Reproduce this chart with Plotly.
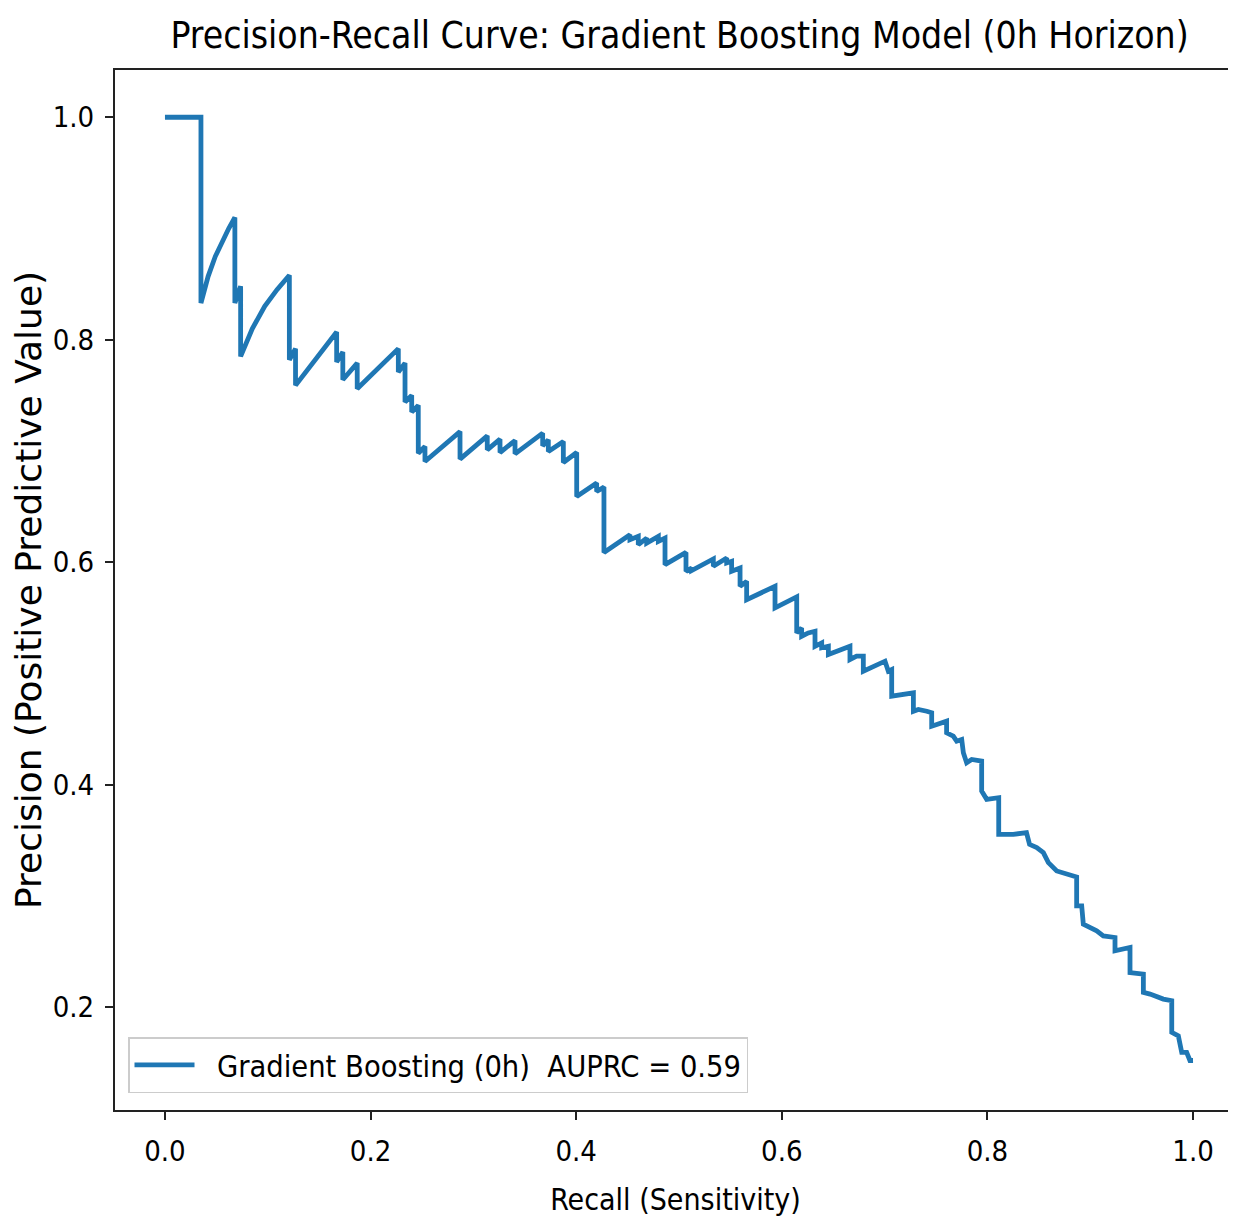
import plotly.graph_objects as go

recall = [
    0.0, 0.035, 0.035, 0.042, 0.049, 0.056, 0.062, 0.068, 0.068, 0.0736, 0.0736,
    0.085, 0.097, 0.109, 0.121, 0.121, 0.127, 0.127, 0.167, 0.167, 0.173, 0.173,
    0.187, 0.187, 0.227, 0.227, 0.2335, 0.2335, 0.240, 0.240, 0.2464, 0.2464, 0.2529, 0.2529,
    0.287, 0.287, 0.3135, 0.3135, 0.3259, 0.3259, 0.3405, 0.3405, 0.3674, 0.3674, 0.3729, 0.3729,
    0.3875, 0.3875, 0.4005, 0.4005, 0.4199, 0.4199, 0.427, 0.427, 0.4523, 0.4523, 0.4604, 0.4604,
    0.4686, 0.4686, 0.4799, 0.4799, 0.4864, 0.4864, 0.5068, 0.5068, 0.5123, 0.5123, 0.5334, 0.5334,
    0.5464, 0.5464, 0.5512, 0.5512, 0.5594, 0.5594, 0.5658, 0.5658, 0.5934, 0.5934, 0.6145, 0.6145,
    0.6193, 0.6193, 0.6258, 0.6323, 0.6323, 0.6388, 0.6388, 0.6453, 0.6453, 0.6663, 0.6663,
    0.6728, 0.6793, 0.6793, 0.7004, 0.7036, 0.7069, 0.7069, 0.7247, 0.728, 0.728, 0.7328, 0.741,
    0.7458, 0.7458, 0.7603, 0.7603, 0.7668, 0.7701, 0.775, 0.7766, 0.7798, 0.7847, 0.7944, 0.7944,
    0.7993, 0.811, 0.811, 0.8252, 0.838, 0.841, 0.848, 0.8544, 0.8593, 0.8674, 0.879, 0.8868, 0.8868,
    0.8917, 0.8933, 0.9063, 0.9127, 0.9241, 0.9241, 0.9387, 0.9387, 0.9517, 0.9517, 0.9582, 0.9711,
    0.9793, 0.9793, 0.9857, 0.989, 0.9938, 0.997, 1.0,
]

precision = [
    1.0, 1.0, 0.833, 0.857, 0.875, 0.889, 0.900, 0.910, 0.833, 0.848, 0.785,
    0.810, 0.830, 0.845, 0.858, 0.782, 0.792, 0.759, 0.807, 0.780, 0.789, 0.764,
    0.779, 0.756, 0.792, 0.771, 0.779, 0.744, 0.750, 0.735, 0.741, 0.698, 0.704, 0.6905,
    0.7174, 0.6927, 0.7136, 0.701, 0.7106, 0.6986, 0.7094, 0.6974, 0.716, 0.7046, 0.710, 0.6995,
    0.7085, 0.6896, 0.6986, 0.6591, 0.6711, 0.6636, 0.6675, 0.6088, 0.6247, 0.6202, 0.6232, 0.6157,
    0.6217, 0.6172, 0.6232, 0.6187, 0.6217, 0.5978, 0.6088, 0.5918, 0.5948, 0.5925, 0.6029, 0.5963,
    0.6038, 0.5993, 0.6008, 0.5918, 0.5948, 0.5783, 0.5828, 0.5663, 0.5783, 0.5589, 0.5688, 0.5364,
    0.5409, 0.5334, 0.5364, 0.5379, 0.5244, 0.5274, 0.523, 0.5244, 0.517, 0.5244, 0.5125,
    0.5155, 0.5155, 0.502, 0.511, 0.502, 0.5035, 0.4795, 0.4826, 0.4826, 0.466, 0.4676, 0.466,
    0.4646, 0.4526, 0.4571, 0.4466, 0.4436, 0.4391, 0.4406, 0.4287, 0.4197, 0.4227, 0.4212, 0.3942,
    0.3868, 0.3883, 0.3553, 0.3553, 0.3569, 0.3463, 0.3434, 0.3389, 0.3299, 0.3224, 0.3194, 0.317, 0.291,
    0.291, 0.2745, 0.2685, 0.264, 0.2626, 0.2506, 0.2536, 0.2311, 0.2296, 0.2132, 0.2117, 0.2072,
    0.2057, 0.1773, 0.1742, 0.1593, 0.1593, 0.152, 0.152,
]

assert len(recall) == len(precision)

title_text = "Precision-Recall Curve: Gradient Boosting Model (0h Horizon)"
x_label = "Recall (Sensitivity)"
y_label = "Precision (Positive Predictive Value)"
legend_label = "\u00a0\u00a0Gradient Boosting (0h)\u00a0 AUPRC = 0.59"
tick_vals = [0.0, 0.2, 0.4, 0.6, 0.8, 1.0]
tick_text = ["0.0", "0.2", "0.4", "0.6", "0.8", "1.0"]

COND = "DejaVu Sans Condensed, Liberation Sans Narrow, DejaVu Sans, sans-serif"
REG = "DejaVu Sans, sans-serif"

FIG_W, FIG_H = 1228, 1213

fig = go.Figure()
fig.add_trace(go.Scatter(
    x=recall, y=precision, mode="lines",
    line=dict(color="#1f77b4", width=4.8),
    name=legend_label,
))

fig.update_layout(
    width=FIG_W, height=FIG_H,
    margin=dict(l=107, r=0, t=62, b=111, autoexpand=False),
    paper_bgcolor="white", plot_bgcolor="white",
    title=dict(text=title_text, x=0.5036, xref="paper", xanchor="center",
               y=1 - 27 / FIG_H, yref="container", yanchor="middle",
               font=dict(family=COND, size=37, color="black")),
    showlegend=True,
    legend=dict(x=0.0116, y=0.0163, xanchor="left", yanchor="bottom",
                bgcolor="white", bordercolor="#cccccc", borderwidth=1.5,
                font=dict(family=COND, size=30.5, color="black"),
                itemwidth=60),
    xaxis=dict(range=[-0.0486, 1.0418], tickvals=tick_vals, ticktext=tick_text,
               showgrid=False, zeroline=False, showline=True, linecolor="#222222",
               linewidth=2, mirror=True, ticks="outside", ticklen=8, tickwidth=2,
               tickcolor="#222222", automargin=False, ticklabelstandoff=6,
               tickfont=dict(family=COND, size=29, color="black"),
               title=dict(text=x_label, standoff=22,
                          font=dict(family=COND, size=30, color="black"))),
    yaxis=dict(range=[0.1075, 1.0425], tickvals=tick_vals, ticktext=tick_text,
               showgrid=False, zeroline=False, showline=True, linecolor="#222222",
               linewidth=2, mirror=False, ticks="outside", ticklen=8, tickwidth=2,
               tickcolor="#222222", automargin=False, ticklabelstandoff=5,
               tickfont=dict(family=COND, size=29, color="black"),
               title=dict(text=y_label, standoff=18,
                          font=dict(family=REG, size=36, color="black"))),
)

fig.write_html("out.html")
